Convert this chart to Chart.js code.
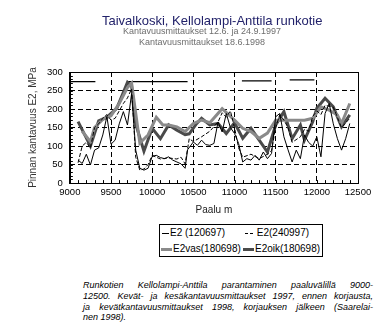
<!DOCTYPE html>
<html>
<head>
<meta charset="utf-8">
<script src="https://cdn.jsdelivr.net/npm/chart.js@4"></script>
<style>
  body { margin: 0; background: #fff; width: 384px; height: 326px; overflow: hidden; position: relative; font-family: 'Liberation Sans', Arial, sans-serif; }
  #chart { position: absolute; left: 0; top: 0; }
  .title { position: absolute; left: 102px; width: 200px; text-align: center; white-space: nowrap; }
  .title.main { top: 13px; font-size: 13px; line-height: 15px; color: #22226a; }
  .title.sub { top: 26px; font-size: 9px; line-height: 11px; color: #6e6e6e; }
  .legend { position: absolute; left: 159px; top: 224px; width: 162px; height: 31px; border: 1px solid #000; font-size: 10px; color: #000; }
  .legend .item { position: absolute; white-space: nowrap; line-height: 12px; }
  .legend .mark { display: inline-block; vertical-align: middle; margin-right: 1px; }
  .caption { position: absolute; left: 83px; top: 280px; width: 290px; font-size: 9px; font-style: italic; line-height: 10.8px; color: #000; }
  .caption div { text-align: justify; text-align-last: justify; white-space: nowrap; }
  .caption div.last { text-align-last: left; }
</style>
</head>
<body>
<canvas id="chart" width="384" height="220"></canvas>

<div class="title main">Taivalkoski, Kellolampi-Anttila runkotie</div>
<div class="title sub">Kantavuusmittaukset 12.6. ja 24.9.1997<br>Kantavuusmittaukset 18.6.1998</div>

<div class="legend">
  <div class="item" style="left:2px; top:2px;"><span class="mark" style="width:7px; border-top:1px solid #000;"></span>E2 (120697)</div>
  <div class="item" style="left:85px; top:2px;"><span class="mark" style="width:8px; border-top:1px dashed #000;"></span>&nbsp;E2(240997)</div>
  <div class="item" style="left:1px; top:18px;"><span class="mark" style="width:11px; height:3px; background:#8a8a8a;"></span>E2vas(180698)</div>
  <div class="item" style="left:83px; top:18px;"><span class="mark" style="width:11px; height:3px; background:#4a4a4a;"></span>E2oik(180698)</div>
</div>

<div class="caption">
  <div>Runkotien Kellolampi-Anttila parantaminen paaluvälillä 9000-</div>
  <div>12500. Kevät- ja kesäkantavuusmittaukset 1997, ennen korjausta,</div>
  <div>ja kevätkantavuusmittaukset 1998, korjauksen jälkeen (Saarelai-</div>
  <div class="last">nen 1998).</div>
</div>

<script>
// Kantavuusmittaukset, paalu (m) ja E2 (MPa)
const paalu1 = [9100,9150,9200,9250,9300,9350,9400,9450,9500,9550,9600,9650,9700,9750,9800,9850,9900,9950,10000,10050,10100,10150,10200,10250,10300,10350,10400,10430,
  10500,10550,10600,10650,10700,10750,10800,10850,10900,10950,11000,11050,11100,11150,11200,11250,11300,11350,11400,11450,
  11500,11550,11600,11650,11700,11750,11800,11850,11900,11950,12000,12050,12100,12150,12200,12250,12300,12350,12400];
const e2_120697 = [62,53,78,49,89,95,130,180,105,116,160,193,157,242,89,40,35,40,72,75,69,66,71,62,57,52,40,90,
  111,102,116,104,102,107,165,138,188,150,134,107,57,66,62,75,62,84,66,80,
  179,188,125,90,57,89,66,130,110,100,125,71,188,215,160,120,89,120,161];

const paalu2 = [9100,9150,9200,9250,9300,9350,9400,9450,9500,9550,9600,9650,9700,9750,9800,9850,9900,9950,10000,10100,10200,10300,
  10350,10400,10450,10500,10600,10700,10800,10850,10900,10950,11000,11050,11100,11200,11300,11400,11450,11500,11550,11600,11650,11700,
  11800,11850,11900,11950,12000,12050,12100,12200,12300,12400];
const e2_240997 = [55,100,110,95,150,160,175,185,170,175,195,215,230,255,70,35,38,50,75,65,68,65,
  70,52,120,112,125,140,165,190,178,195,150,95,70,78,66,78,88,150,185,170,150,110,
  125,145,140,180,195,185,210,205,150,175];

const paaluVas = [9150,9250,9300,9400,9500,9600,9700,9750,9850,9950,10050,10130,10200,10300,10400,10500,10600,10700,10850,11000,
  11100,11200,11300,11400,11500,11650,11850,11950,12050,12150,12250,12300,12400];
const e2vas = [140,112,150,172,182,215,258,270,108,130,178,157,157,152,139,161,170,163,201,170,
  148,139,121,135,170,170,170,175,206,197,184,161,215];

const paaluOik = [9100,9250,9350,9450,9570,9700,9750,9800,9900,10000,10100,10200,10300,10400,10450,10530,10600,10700,10800,10900,
  11000,11100,11200,11300,11400,11500,11600,11700,11800,11850,11950,12000,12100,12200,12300,12400];
const e2oik = [166,100,168,178,202,272,262,160,86,148,120,157,143,131,133,158,175,157,161,134,
  163,121,148,116,84,157,193,120,157,116,166,202,229,206,152,184];

// korjatut jaksot (vaakaviivat kuvan yläosassa)
const jaksot = [[9000,9310],[9700,10430],[11090,11450],[11670,11970]];
const jaksoTaso = [274,274,276,279];

const xTicks = [9000,9500,10000,10500,11000,11500,12000,12500];
const yTicks = [0,50,100,150,200,250,300];

function pts(xs, ys) {
    return xs.map((x, i) => ({ x: x, y: ys[i] }));
}

Chart.defaults.font.family = "'Liberation Sans', Arial, sans-serif";
Chart.defaults.color = '#000';

const datasets = [
    { label: 'E2 (120697)', data: pts(paalu1, e2_120697), borderColor: '#000', borderWidth: 1 },
    { label: 'E2(240997)', data: pts(paalu2, e2_240997), borderColor: '#000', borderWidth: 1, borderDash: [4, 2] },
    { label: 'E2vas(180698)', data: pts(paaluVas, e2vas), borderColor: '#8a8a8a', borderWidth: 3 },
    { label: 'E2oik(180698)', data: pts(paaluOik, e2oik), borderColor: '#4a4a4a', borderWidth: 3 }
];
jaksot.forEach((j, i) => {
    datasets.push({ label: 'jakso' + i, data: [{ x: j[0], y: jaksoTaso[i] }, { x: j[1], y: jaksoTaso[i] }], borderColor: '#000', borderWidth: 1.2 });
});

// plot frame + minor ticks
const framePlugin = {
    id: 'frame',
    afterDraw(chart) {
        const { ctx, chartArea: a, scales } = chart;
        ctx.save();
        ctx.strokeStyle = '#000';
        ctx.lineWidth = 1;
        ctx.setLineDash([]);
        ctx.strokeRect(Math.round(a.left) + 0.5, Math.round(a.top) + 0.5, Math.round(a.right - a.left), Math.round(a.bottom - a.top));
        ctx.beginPath();
        for (let v = 10; v < 300; v += 10) {
            const y = Math.round(scales.y.getPixelForValue(v)) + 0.5;
            ctx.moveTo(a.left, y); ctx.lineTo(a.left + 3, y);
        }
        for (let v = 9100; v < 12500; v += 100) {
            const x = Math.round(scales.x.getPixelForValue(v)) + 0.5;
            ctx.moveTo(x, a.bottom); ctx.lineTo(x, a.bottom - 3);
        }
        ctx.stroke();
        ctx.restore();
    }
};

new Chart(document.getElementById('chart'), {
    type: 'line',
    data: { datasets: datasets },
    plugins: [framePlugin],
    options: {
        responsive: false,
        animation: false,
        layout: { padding: { left: 0, right: 26, top: 72, bottom: 0 } },
        elements: { point: { radius: 0 }, line: { tension: 0 } },
        plugins: {
            legend: { display: false },
            tooltip: { enabled: false }
        },
        scales: {
            x: {
                type: 'linear',
                min: 9000,
                max: 12500,
                afterBuildTicks: s => { s.ticks = xTicks.map(v => ({ value: v })); },
                ticks: { font: { size: 9.5 }, padding: 4, maxRotation: 0, callback: v => String(v) },
                grid: { color: '#000', drawTicks: false },
                border: { color: '#000', dash: [5, 3] },
                title: { display: true, text: 'Paalu m', color: '#222', font: { size: 10 }, padding: { top: 2, bottom: 3.5 } }
            },
            y: {
                min: 0,
                max: 300,
                afterBuildTicks: s => { s.ticks = yTicks.map(v => ({ value: v })); },
                ticks: { font: { size: 9.5 }, padding: 7, callback: v => String(v) },
                grid: { color: '#000', drawTicks: false },
                border: { color: '#000', dash: [5, 3] },
                title: { display: true, text: 'Pinnan kantavuus E2, MPa', color: '#333', font: { size: 10 }, padding: { top: 27, bottom: 1 } }
            }
        }
    }
});
</script>
</body>
</html>
